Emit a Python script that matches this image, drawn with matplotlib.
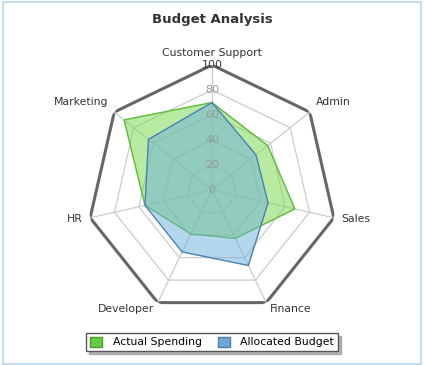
import numpy as np
import matplotlib
matplotlib.use("Agg")
import matplotlib.pyplot as plt
from matplotlib.patches import Patch, Rectangle

categories = ["Customer Support", "Admin", "Sales", "Finance", "Developer", "HR", "Marketing"]
actual = [70, 57, 68, 43, 39, 55, 90]
budget = [70, 45, 46, 67, 55, 55, 65]
levels = [0, 20, 40, 60, 80, 100]

n = len(categories)
theta = np.arange(n) * 2 * np.pi / n
th_closed = np.append(theta, theta[0])

fig = plt.figure(figsize=(4.24, 3.65), dpi=100)
fig.patch.set_facecolor("white")
fig.patches.append(Rectangle((0.006, 0.004), 0.988, 0.99, transform=fig.transFigure,
                             fill=False, edgecolor="#b4d8ea", lw=1.2))

ax = fig.add_axes([87 / 424, 50 / 365, 250 / 424, 250 / 365], projection="polar")
ax.set_theta_offset(np.pi / 2)
ax.set_theta_direction(-1)
ax.set_ylim(0, 100)
ax.grid(False)
ax.set_xticks([])
ax.set_yticks([])
ax.spines["polar"].set_visible(False)
ax.patch.set_alpha(0)

# heptagon grid
for lv in levels[1:-1]:
    ax.plot(th_closed, [lv] * (n + 1), color="#cccccc", lw=0.9, zorder=1)
ax.plot(th_closed, [100] * (n + 1), color="#666666", lw=2.2, zorder=1)
for t in theta:
    ax.plot([t, t], [0, 100], color="#cccccc", lw=0.9, zorder=1)

# series
ax.fill(th_closed, actual + actual[:1], color="#7ed957", alpha=0.55, zorder=2)
ax.plot(th_closed, actual + actual[:1], color="#5cba3c", lw=0.9, zorder=3)
ax.fill(th_closed, budget + budget[:1], color="#6cb0dc", alpha=0.5, zorder=4)
ax.plot(th_closed, budget + budget[:1], color="#4a7fb0", lw=0.9, zorder=5)

# radial labels
for lv in levels:
    if lv == 100:
        ax.text(0, lv, str(lv), ha="center", va="center", fontsize=8,
                color="#333333", zorder=6)
    else:
        ax.text(0, lv, str(lv), ha="center", va="center", fontsize=8,
                color="#9a9a9a", zorder=6)

# category labels
for t, name in zip(theta, categories):
    s, c = np.sin(t), np.cos(t)
    ha = "left" if s > 0.1 else ("right" if s < -0.1 else "center")
    va = "bottom" if c > 0.5 else "center"
    r = 105.5 if abs(s) < 0.1 else 106
    ax.text(t, r, name, ha=ha, va=va, fontsize=7.8, color="#333333")

for t in ax.texts:
    t.set_clip_on(False)

fig.text(0.5, 1 - 20 / 365, "Budget Analysis", ha="center", va="center",
         fontsize=9.5, fontweight="bold", color="#333333")

handles = [Patch(facecolor="#66cc44", edgecolor="#4a9a30", label="Actual Spending"),
           Patch(facecolor="#6fa8d0", edgecolor="#4a7fa8", label="Allocated Budget")]
leg = fig.legend(handles=handles, loc="center", bbox_to_anchor=(0.5, 1 - 342 / 365),
                 ncol=2, fontsize=7.8, frameon=True, fancybox=False,
                 shadow={"color": "#888888", "alpha": 0.6},
                 edgecolor="#555555", handlelength=1.1, handleheight=1.1,
                 columnspacing=1.5, handletextpad=1.0, borderpad=0.35)
leg.get_frame().set_linewidth(1.0)

fig.savefig("out.png", dpi=100)
